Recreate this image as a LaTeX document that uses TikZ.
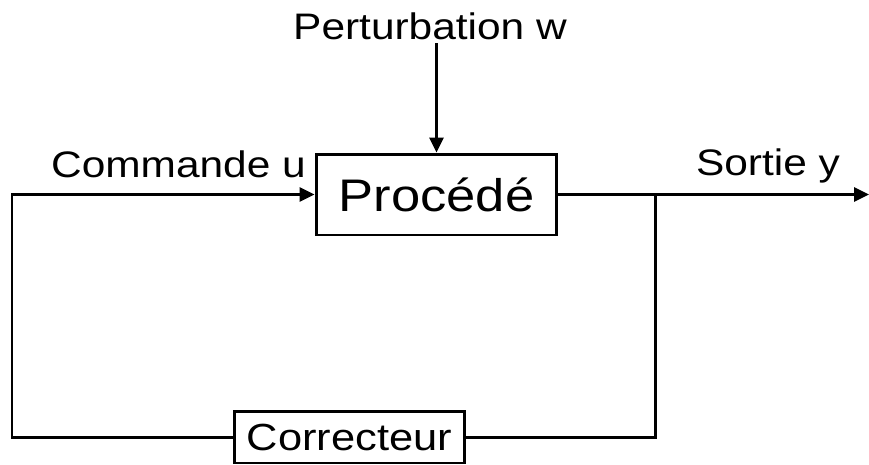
\documentclass[tikz,border=0pt]{standalone}
\usepackage{fontspec}
\setmainfont[FakeStretch=1.15]{Liberation Sans}
\usetikzlibrary{arrows.meta, positioning}

\begin{document}
\begin{tikzpicture}[
  x=0.02cm, y=-0.02cm,
  blk/.style={draw, line width=1.7pt, inner sep=0pt, align=center},
  lbl/.style={anchor=base, inner sep=2pt, font=\fontsize{21}{25}\selectfont},
  wire/.style={line width=1.7pt},
  tip/.style={-{Triangle[length=0.3cm, width=0.28cm]}}
]
  \useasboundingbox (0,0) rectangle (869,464);

  % blocks
  \node[blk, minimum width=4.82cm, minimum height=1.62cm,
        font=\fontsize{26}{30}\selectfont] (proc) at (436.5,194.5) {Procédé};
  \node[blk, minimum width=4.62cm, minimum height=1.04cm,
        font=\fontsize{21.5}{25}\selectfont] (corr) at (349.5,437) {Correcteur};

  % labels
  \node[lbl] (pert) at (430,39) {Perturbation w};
  \node[lbl] (cmd) at (178.5,177) {Commande u};
  \node[lbl] (sortie) at (768,175) {Sortie y};

  \coordinate (fb) at (12,194.5);
  \coordinate (tap) at (655,194.5);
  \coordinate (out) at (869,194.5);

  % connections
  \draw[wire, tip] (pert.south -| proc.north) -- (proc.north);
  \draw[wire, tip] (corr.west) -| (fb) -- (proc.west);
  \draw[wire, tip] (proc.east) -- (out);
  \draw[wire] (tap) |- (corr.east);
\end{tikzpicture}
\end{document}
